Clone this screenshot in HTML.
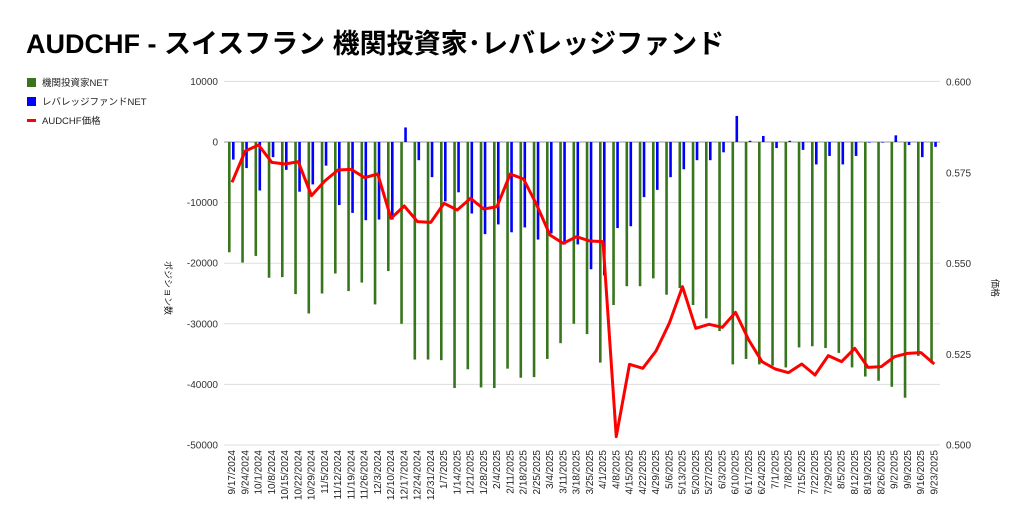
<!DOCTYPE html>
<html><head><meta charset="utf-8"><style>
body{margin:0;background:#fff;}
svg{display:block;font-family:"Liberation Sans","Noto Sans CJK JP",sans-serif;}
</style></head><body>
<svg id="c" width="1024" height="526" xmlns="http://www.w3.org/2000/svg">
<text x="26" y="53" font-size="27" font-weight="bold" fill="#000">AUDCHF - スイスフラン 機関投資家･レバレッジファンド</text>
<rect x="27" y="78" width="9" height="9" fill="#38761d"/>
<text x="42" y="86" font-size="9.5" fill="#222">機関投資家NET</text>
<rect x="27" y="97" width="9" height="9" fill="#0000ff"/>
<text x="42" y="105" font-size="9.5" fill="#222">レバレッジファンドNET</text>
<rect x="27" y="119" width="9" height="3" fill="#ff0000"/>
<text x="42" y="124" font-size="9.5" fill="#222">AUDCHF価格</text>
<text transform="translate(165,288) rotate(90)" font-size="9" fill="#222" text-anchor="middle">ポジション数</text>
<text transform="translate(992,288) rotate(90)" font-size="9" fill="#222" text-anchor="middle">価格</text>
<g id="g"></g>
</svg>
<script>
var g=document.getElementById('g'),h='';
var gr=[-18.2,-19.9,-18.8,-22.4,-22.3,-25.1,-28.3,-25.0,-21.7,-24.6,-23.2,-26.8,-21.3,-30.0,-35.9,-35.9,-36.0,-40.6,-37.5,-40.5,-40.6,-37.4,-38.9,-38.8,-35.8,-33.2,-30.0,-31.7,-36.4,-26.9,-23.8,-23.8,-22.5,-25.2,-24.1,-26.9,-29.1,-31.2,-36.7,-35.8,-36.7,-36.9,-37.2,-33.9,-33.7,-34.0,-34.8,-37.2,-38.7,-39.4,-40.4,-42.2,-35.3,-36.5];
var bl=[-2.9,-4.3,-8.0,-2.5,-4.6,-8.2,-7.0,-3.9,-10.4,-11.7,-12.9,-12.8,-12.8,2.4,-3.0,-5.8,-9.8,-8.3,-11.8,-15.2,-13.6,-14.9,-14.1,-16.1,-15.1,-16.9,-16.9,-21.0,-22,-14.2,-13.9,-9.1,-7.9,-5.8,-4.5,-3.0,-3.0,-1.7,4.3,0.2,1.0,-1.0,0.2,-1.3,-3.7,-2.3,-3.7,-2.3,-0.1,-0.1,1.1,-0.5,-2.5,-0.8];
var rz=[322,228,210,262,267,260,362,318,285,283,308,297,430,393,440,442,385,405,370,402,395,297,312,390,480,505,485,498,500,1085,868,880,828,745,635,760,748,757,712,795,860,882,893,867,900,842,860,820,877,875,845,835,833,867];
var Y=function(v){return 142-v*6.06;};
// grid
for(var k=1;k>=-5;k--){var y=Y(k*10);h+='<line x1="224" x2="940" y1="'+y+'" y2="'+y+'" stroke="'+(k==0?'#999':'#ddd')+'" stroke-width="1"/>';
h+='<text x="218" y="'+(y+3.5)+'" font-size="10" fill="#333" text-anchor="end">'+(k*10000)+'</text>';}
var rl=['0.600','0.575','0.550','0.525','0.500'];
for(var i=0;i<5;i++){h+='<text x="946" y="'+(82+i*90.75+3.5)+'" font-size="10" fill="#333">'+rl[i]+'</text>';}
var d=new Date(2024,8,17),pts=[];
for(var i=0;i<54;i++){var x=229+13.25*i;
h+='<rect x="'+(x-1)+'" y="'+Math.min(142,Y(gr[i]))+'" width="2.6" height="'+Math.abs(Y(gr[i])-142)+'" fill="#38761d"/>';
h+='<rect x="'+(x+3)+'" y="'+Math.min(142,Y(bl[i]))+'" width="2.6" height="'+Math.abs(Y(bl[i])-142)+'" fill="#0000ff"/>';
pts.push((x+3)+','+(75+rz[i]/3));
var lab=(d.getMonth()+1)+'/'+d.getDate()+'/'+d.getFullYear();
h+='<text transform="translate('+(x+6)+',450) rotate(-90)" font-size="10" fill="#222" text-anchor="end">'+lab+'</text>';
d.setDate(d.getDate()+7);}
h+='<polyline points="'+pts.join(' ')+'" fill="none" stroke="#ff0000" stroke-width="3" stroke-linejoin="round"/>';
g.innerHTML=h;
</script>
</body></html>
